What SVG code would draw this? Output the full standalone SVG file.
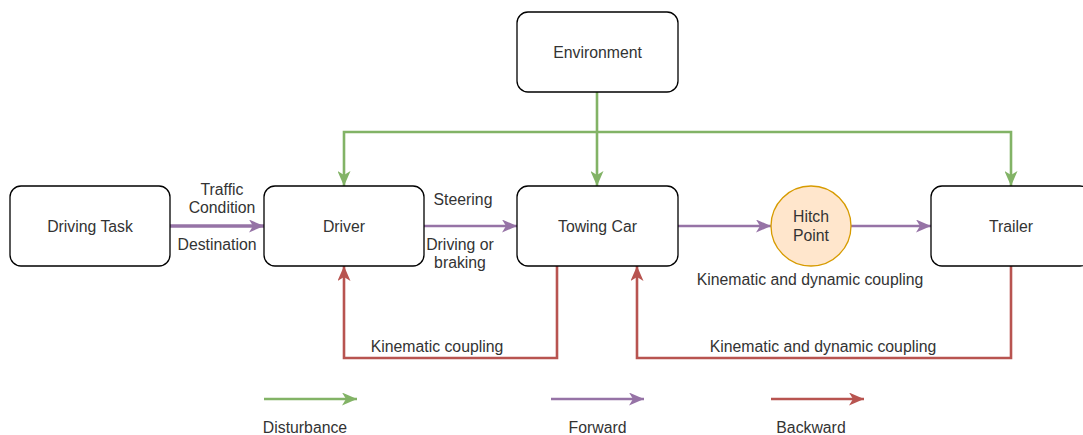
<svg xmlns="http://www.w3.org/2000/svg" width="1083" height="435" viewBox="0 0 1083 435">
<defs>
<style>
.box{fill:#fff;stroke:#000;stroke-width:1.3}
.t{font-family:"Liberation Sans",Arial,sans-serif;font-size:15.8px;fill:#333;text-anchor:middle}
.g{fill:none;stroke:#82b366;stroke-width:2.6}
.p{fill:none;stroke:#9673a6;stroke-width:2.6}
.r{fill:none;stroke:#b85450;stroke-width:2.6}
</style>
<marker id="ag" viewBox="0 0 15 13" refX="15" refY="6.5" markerWidth="15" markerHeight="13" markerUnits="userSpaceOnUse" orient="auto"><path d="M0,0 L15,6.5 L0,13 L4,6.5 Z" fill="#82b366"/></marker>
<marker id="ap" viewBox="0 0 15 13" refX="15" refY="6.5" markerWidth="15" markerHeight="13" markerUnits="userSpaceOnUse" orient="auto"><path d="M0,0 L15,6.5 L0,13 L4,6.5 Z" fill="#9673a6"/></marker>
<marker id="ar" viewBox="0 0 15 13" refX="15" refY="6.5" markerWidth="15" markerHeight="13" markerUnits="userSpaceOnUse" orient="auto"><path d="M0,0 L15,6.5 L0,13 L4,6.5 Z" fill="#b85450"/></marker>
</defs>
<rect width="1083" height="435" fill="#fff"/>
<g id="connectors">
<path class="g" d="M597,92 V186" marker-end="url(#ag)"/>
<path class="g" d="M597,132 H344 V186" marker-end="url(#ag)"/>
<path class="g" d="M597,132 H1011 V186" marker-end="url(#ag)"/>
<path class="p" d="M170,226 H264" style="stroke-width:3.4" marker-end="url(#ap)"/>
<path class="p" d="M424,226 H517" marker-end="url(#ap)"/>
<path class="p" d="M678,226 H771" marker-end="url(#ap)"/>
<path class="p" d="M851,226 H931" marker-end="url(#ap)"/>
<path class="r" d="M557,266 V358 H344 V266" marker-end="url(#ar)"/>
<path class="r" d="M1011,266 V358 H637 V266" marker-end="url(#ar)"/>
<text class="t" x="222" y="195">Traffic</text>
<text class="t" x="222" y="213">Condition</text>
<text class="t" x="217" y="250">Destination</text>
<text class="t" x="463" y="205">Steering</text>
<text class="t" x="460" y="250">Driving or</text>
<text class="t" x="460" y="268">braking</text>
<text class="t" x="810" y="285">Kinematic and dynamic coupling</text>
<text class="t" x="437" y="352">Kinematic coupling</text>
<text class="t" x="823" y="352">Kinematic and dynamic coupling</text>
</g>
<g id="environment"><rect class="box" x="517" y="12" width="161" height="80" rx="11"/><text class="t" x="597.5" y="57.5">Environment</text></g>
<g id="driving-task"><rect class="box" x="10" y="186" width="160" height="80" rx="11"/><text class="t" x="90" y="231.5">Driving Task</text></g>
<g id="driver"><rect class="box" x="264" y="186" width="160" height="80" rx="11"/><text class="t" x="344" y="231.5">Driver</text></g>
<g id="towing-car"><rect class="box" x="517" y="186" width="161" height="80" rx="11"/><text class="t" x="597.5" y="231.5">Towing Car</text></g>
<g id="hitch-point"><circle cx="811" cy="226" r="40" fill="#ffe6cc" stroke="#d79b00" stroke-width="1.3"/><text class="t" x="811" y="222">Hitch</text><text class="t" x="811" y="241">Point</text></g>
<g id="trailer"><rect class="box" x="931" y="186" width="160" height="80" rx="11"/><text class="t" x="1011" y="231.5">Trailer</text></g>
<g id="legend">
<path class="g" d="M264,399 H357" marker-end="url(#ag)"/>
<path class="p" d="M551,399 H644" marker-end="url(#ap)"/>
<path class="r" d="M771,399 H864" marker-end="url(#ar)"/>
<text class="t" x="305" y="433">Disturbance</text>
<text class="t" x="597.5" y="433">Forward</text>
<text class="t" x="811" y="433">Backward</text>
</g>
</svg>
